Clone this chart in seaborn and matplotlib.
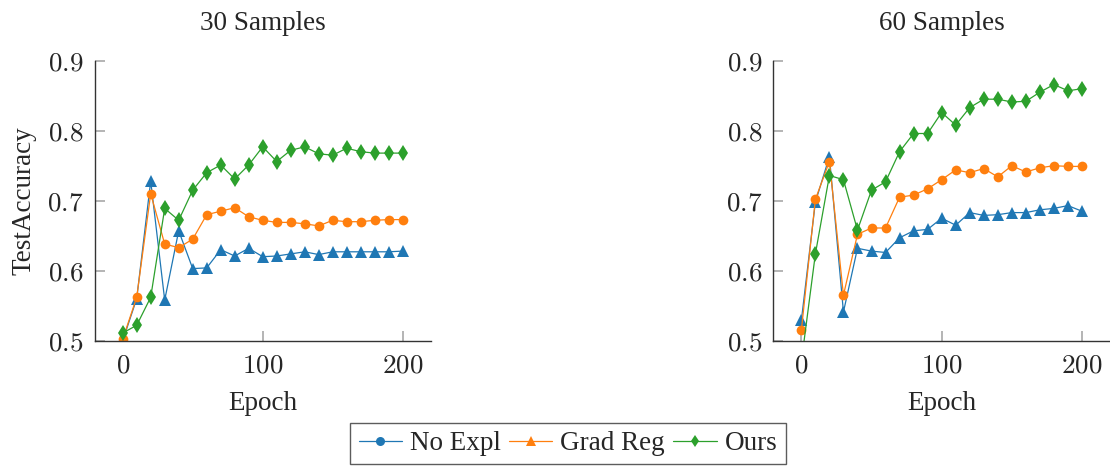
import numpy as np
import pandas as pd
import matplotlib
matplotlib.use("Agg")
import matplotlib.pyplot as plt
from matplotlib.lines import Line2D
import seaborn as sns

# ---------------- data ----------------
epochs = list(range(0, 201, 10))

no_expl_30 = [0.500, 0.560, 0.728, 0.558, 0.657, 0.603, 0.604, 0.630, 0.621, 0.632, 0.620,
              0.621, 0.624, 0.627, 0.623, 0.627, 0.627, 0.627, 0.627, 0.627, 0.628]
grad_reg_30 = [0.502, 0.562, 0.710, 0.638, 0.633, 0.645, 0.680, 0.685, 0.690, 0.677, 0.672,
               0.669, 0.669, 0.667, 0.664, 0.672, 0.670, 0.670, 0.672, 0.673, 0.673]
ours_30 = [0.511, 0.522, 0.562, 0.689, 0.672, 0.715, 0.740, 0.751, 0.731, 0.751, 0.777,
           0.756, 0.772, 0.777, 0.767, 0.765, 0.775, 0.770, 0.768, 0.768, 0.768]

no_expl_60 = [0.529, 0.698, 0.763, 0.541, 0.632, 0.628, 0.626, 0.647, 0.657, 0.659, 0.675,
              0.665, 0.683, 0.679, 0.680, 0.683, 0.683, 0.687, 0.689, 0.693, 0.685]
grad_reg_60 = [0.515, 0.702, 0.756, 0.565, 0.652, 0.661, 0.661, 0.705, 0.708, 0.717, 0.730,
               0.744, 0.740, 0.746, 0.734, 0.750, 0.741, 0.747, 0.750, 0.749, 0.749]
ours_60 = [0.470, 0.624, 0.736, 0.730, 0.658, 0.715, 0.727, 0.770, 0.796, 0.796, 0.826,
           0.808, 0.833, 0.845, 0.845, 0.841, 0.842, 0.855, 0.866, 0.857, 0.860]

titles = ["30 Samples", "60 Samples"]
series_names = ["No Expl", "Grad Reg", "Ours"]
xticks = [0, 100, 200]
yticks = [0.5, 0.6, 0.7, 0.8, 0.9]
ytick_labels = ["0.5", "0.6", "0.7", "0.8", "0.9"]
xtick_labels = ["0", "100", "200"]

# ---------------- style ----------------
sns.set_theme(style="ticks")
plt.rcParams["font.family"] = ["Liberation Serif", "DejaVu Serif"]
plt.rcParams["mathtext.fontset"] = "cm"
plt.rcParams["xtick.direction"] = "in"
plt.rcParams["ytick.direction"] = "in"

colors = ["#1f77b4", "#ff7f0e", "#2ca02c"]
plot_markers = ["^", "o", "d"]      # markers drawn on the lines
legend_markers = ["o", "^", "d"]    # markers shown in the legend
marker_sizes = [8, 7, 8]
FS = 19.5

fig = plt.figure(figsize=(11.10, 4.68), dpi=100)
ax1 = fig.add_axes([94.7 / 1110, 1 - 340.7 / 468, 336 / 1110, 280 / 468])
ax2 = fig.add_axes([773.3 / 1110, 1 - 340.7 / 468, 336.7 / 1110, 280 / 468])

panels = [
    (ax1, [no_expl_30, grad_reg_30, ours_30]),
    (ax2, [no_expl_60, grad_reg_60, ours_60]),
]

for i, (ax, series) in enumerate(panels):
    for name, vals, c, m, ms in zip(series_names, series, colors, plot_markers, marker_sizes):
        df = pd.DataFrame({"Epoch": epochs, "acc": vals})
        sns.lineplot(data=df, x="Epoch", y="acc", ax=ax, color=c, marker=m,
                     markersize=ms, markeredgewidth=0, linewidth=0.9, legend=False)
    ax.set_xlim(-20, 220)
    ax.set_ylim(0.5, 0.9)
    ax.set_xticks(xticks, labels=[f"${t}$" for t in xtick_labels])
    ax.set_yticks(yticks, labels=[f"${t}$" for t in ytick_labels])
    ax.tick_params(axis="both", which="major", direction="in", length=7, width=1.2,
                   color="#a8a8a8", labelsize=FS, bottom=True, left=True,
                   top=False, right=False)
    ax.tick_params(axis="x", pad=9)
    ax.tick_params(axis="y", pad=8)
    for s in ["top", "right"]:
        ax.spines[s].set_visible(False)
    for s in ["left", "bottom"]:
        ax.spines[s].set_color("#333333")
        ax.spines[s].set_linewidth(1.0)
    ax.set_title(titles[i], fontsize=FS, pad=22)
    ax.set_xlabel("Epoch", fontsize=FS, labelpad=9)
    ax.set_ylabel("")

ax1.set_ylabel("TestAccuracy", fontsize=FS, labelpad=8)

handles = [Line2D([0], [0], color=c, marker=m, markersize=6.5, markeredgewidth=0, linewidth=0.9)
           for c, m in zip(colors, legend_markers)]
leg = fig.legend(handles, series_names, loc="center", bbox_to_anchor=(568 / 1110, 1 - 443.5 / 468),
                 ncol=3, fontsize=FS, frameon=True, fancybox=False, handlelength=1.6,
                 handletextpad=0.3, columnspacing=0.3, borderpad=0.3, borderaxespad=0)
leg.get_frame().set_edgecolor("#333333")
leg.get_frame().set_linewidth(1.0)

fig.savefig("out.png", dpi=100)
